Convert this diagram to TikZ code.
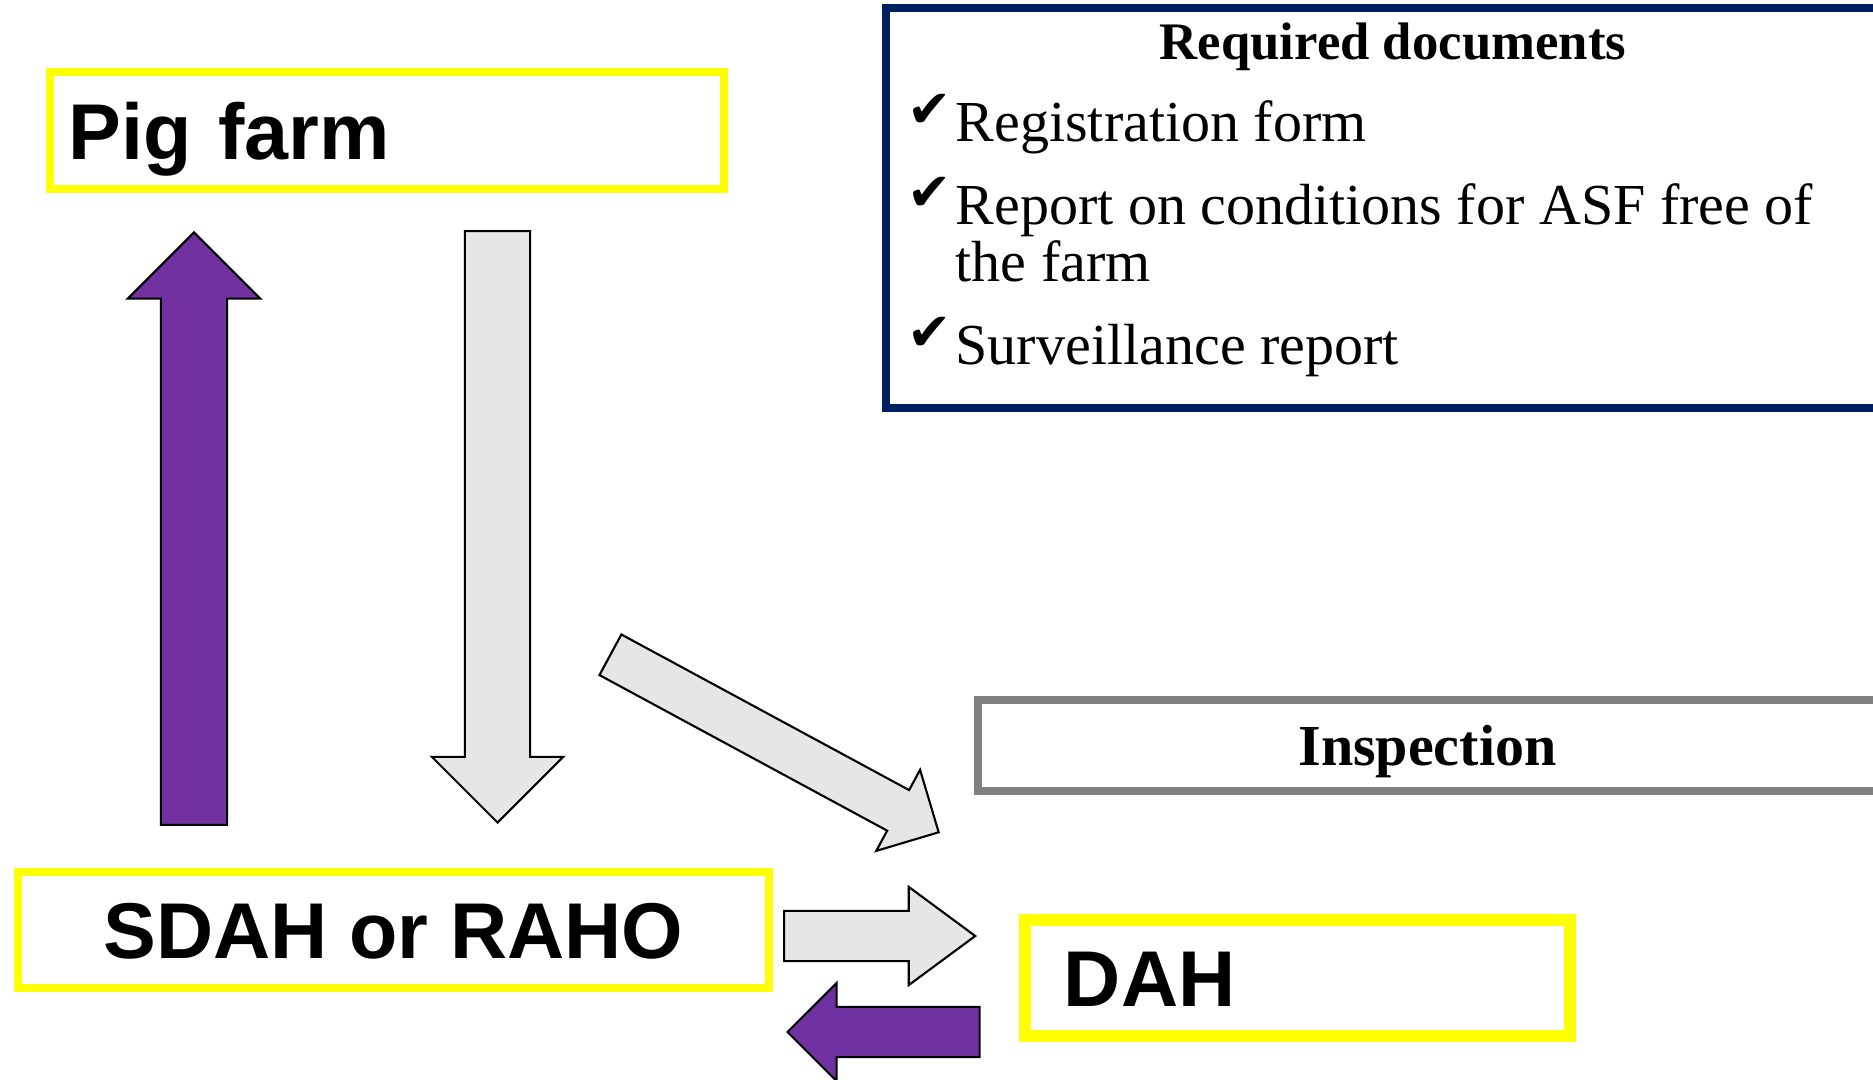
\documentclass[tikz,border=0pt]{standalone}
\usepackage{fontspec}
\setmainfont{Liberation Serif}
\setsansfont{Liberation Sans}
\newfontfamily\symbfont{DejaVu Sans}
\usetikzlibrary{shapes.arrows}
\definecolor{boxyellow}{HTML}{FFFF00}
\definecolor{flowpurple}{HTML}{7030A0}
\definecolor{flowgray}{HTML}{E6E6E6}
\definecolor{docnavy}{HTML}{002060}
\definecolor{inspgray}{HTML}{808080}
\newcommand{\tick}{\llap{\raisebox{0.14cm}{\symbfont\fontsize{15}{15}\selectfont ✔}\hspace{0.04cm}}}

\begin{document}
\begin{tikzpicture}[x=0.01cm, y=-0.01cm,
    office/.style={draw=boxyellow, line width=2.3pt, rectangle, inner sep=0pt, font=\sffamily\bfseries\fontsize{22.5}{27}\selectfont, text height=0.57cm, text depth=0pt},
    fatarrow/.style={single arrow, draw=black, line width=0.6pt, inner xsep=0pt, single arrow tip angle=90, anchor=tip},
    purplearrow/.style={fatarrow, fill=flowpurple},
    grayarrow/.style={fatarrow, fill=flowgray},
    doctext/.style={font=\fontsize{16.5}{16.2}\selectfont, anchor=base west, inner sep=0pt}]
        \useasboundingbox (0,0) rectangle (1873,1080);

        \node (farm) [office, minimum width=6.74cm, minimum height=1.17cm, text width=6.36cm, inner xsep=0.19cm, align=left] at (387,130.5) {Pig farm};
        \node (sdah) [office, minimum width=7.51cm, minimum height=1.16cm] at (393.5,930) {SDAH or RAHO};
        \node (dah) [office, line width=3.3pt, minimum width=5.45cm, minimum height=1.16cm, text width=4.67cm, inner xsep=0.39cm, align=left] at (1297.5,978) {DAH};
        \node (insp) [draw=inspgray, line width=2.3pt, inner sep=0pt, minimum width=8.99cm, minimum height=0.91cm, text height=0.39cm, text depth=0pt, font=\bfseries\fontsize{16.5}{18}\selectfont] at (1427.5,745.5) {Inspection};

        \node (docs) [draw=docnavy, line width=2.3pt, minimum width=9.94cm, minimum height=4cm] at (1383,208) {};
        \node (doctitle) [anchor=base, inner sep=0pt, font=\bfseries\fontsize{15}{18}\selectfont] at (1393,60) {Required documents};
        \node (reg) [doctext] at (955,142) {\tick Registration form};
        \node (cond) [doctext] at (955,225) {\tick Report on conditions for ASF free of};
        \node (condb) [doctext] at (955,282) {the farm};
        \node (surv) [doctext] at (955,365) {\tick Surveillance report};

        \node (up) [purplearrow, inner ysep=0.32cm, minimum height=5.92cm, single arrow head extend=0.33cm, rotate=90] at (194,231) {};
        \node (down) [grayarrow, inner ysep=0.315cm, minimum height=5.91cm, single arrow head extend=0.33cm, rotate=-90] at (497.5,824) {};
        \node (diag) [grayarrow, inner ysep=0.22cm, minimum height=3.73cm, single arrow head extend=0.23cm, rotate=-28.4] at (940,833) {};
        \node (todah) [grayarrow, inner ysep=0.24cm, minimum height=1.91cm, single arrow head extend=0.24cm, single arrow tip angle=72.9] at (977,936) {};
        \node (back) [purplearrow, inner ysep=0.24cm, minimum height=1.92cm, single arrow head extend=0.24cm, rotate=180] at (786,1032) {};
    \end{tikzpicture}
\end{document}
